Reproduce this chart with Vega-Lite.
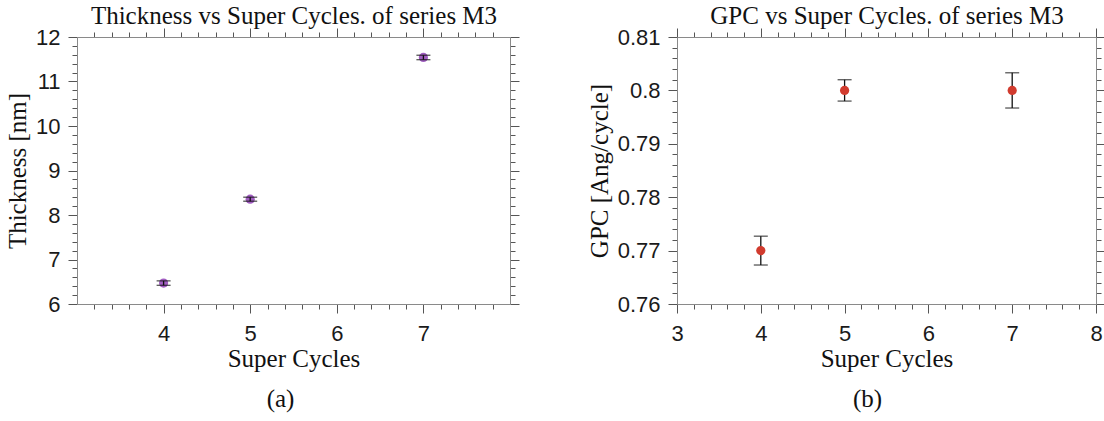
{
  "$schema": "https://vega.github.io/schema/vega-lite/v6.json",
  "autosize": {"type": "pad"},
  "padding": {"left": 5, "top": 3, "right": 2, "bottom": 2},
  "bounds": "flush",
  "spacing": 167,
  "config": {
    "view": {"stroke": null},
    "axis": {
      "grid": false,
      "domainColor": "#8a8a8a",
      "domainWidth": 1,
      "tickColor": "#555555",
      "tickWidth": 1,
      "labelFont": "Liberation Sans",
      "labelFontSize": 22,
      "labelColor": "#1a1a1a",
      "labelOverlap": false,
      "labelFlush": false,
      "titleFont": "Liberation Serif",
      "titleFontSize": 25,
      "titleFontWeight": "normal",
      "titleColor": "#111111"
    },
    "title": {"font": "Liberation Serif", "fontSize": 25, "fontWeight": "normal", "color": "#111111"}
  },
  "hconcat": [
    {
      "width": 433,
      "height": 267,
      "title": {"text": "(a)", "orient": "bottom", "anchor": "middle", "offset": 16, "dx": -13},
      "data": {"values": [
        {"cycles": 4, "thickness": 6.47, "err": 0.05},
        {"cycles": 5, "thickness": 8.355, "err": 0.045},
        {"cycles": 7, "thickness": 11.54, "err": 0.05}
      ]},
      "layer": [
        {
          "mark": {"type": "circle", "size": 85, "color": "#a15dc1", "opacity": 1},
          "encoding": {
            "x": {"field": "cycles", "type": "quantitative",
              "scale": {"domain": [3, 8], "nice": false, "zero": false},
              "axis": {"orient": "bottom", "title": "Super Cycles", "titleBaseline": "alphabetic", "titleY": 62, "labelPadding": 10,
                "values": [3.2,3.4,3.6,3.8,4,4.2,4.4,4.6,4.8,5,5.2,5.4,5.6,5.8,6,6.2,6.4,6.6,6.8,7,7.2,7.4,7.6,7.8],
                "labelExpr": "abs(datum.value - round(datum.value)) < 1e-6 ? format(datum.value, 'd') : ''",
                "tickSize": {"condition": {"test": "abs(datum.value - round(datum.value)) < 1e-6", "value": 9}, "value": 5}}},
            "y": {"field": "thickness", "type": "quantitative",
              "scale": {"domain": [6, 12], "nice": false, "zero": false},
              "axis": {"orient": "left", "title": "Thickness [nm]", "titlePadding": 5, "labelPadding": 8,
                "values": [6,6.2,6.4,6.6,6.8,7,7.2,7.4,7.6,7.8,8,8.2,8.4,8.6,8.8,9,9.2,9.4,9.6,9.8,10,10.2,10.4,10.6,10.8,11,11.2,11.4,11.6,11.8,12],
                "labelExpr": "abs(datum.value - round(datum.value)) < 1e-6 ? format(datum.value, 'd') : ''",
                "tickSize": {"condition": {"test": "abs(datum.value - round(datum.value)) < 1e-6", "value": 9}, "value": 5}}}
          }
        },
        {
          "mark": {"type": "errorbar", "color": "#111111", "thickness": 1.3, "ticks": {"size": 14}},
          "encoding": {
            "x": {"field": "cycles", "type": "quantitative",
              "scale": {"domain": [3, 8], "nice": false, "zero": false},
              "axis": {"orient": "top", "title": "Thickness vs Super Cycles. of series M3", "titlePadding": -1, "labels": false,
                "values": [3.2,3.4,3.6,3.8,4,4.2,4.4,4.6,4.8,5,5.2,5.4,5.6,5.8,6,6.2,6.4,6.6,6.8,7,7.2,7.4,7.6,7.8],
                "tickSize": {"condition": {"test": "abs(datum.value - round(datum.value)) < 1e-6", "value": 9}, "value": 5}}},
            "y": {"field": "thickness", "type": "quantitative",
              "scale": {"domain": [6, 12], "nice": false, "zero": false},
              "axis": {"orient": "right", "title": null, "labels": false,
                "values": [6,6.2,6.4,6.6,6.8,7,7.2,7.4,7.6,7.8,8,8.2,8.4,8.6,8.8,9,9.2,9.4,9.6,9.8,10,10.2,10.4,10.6,10.8,11,11.2,11.4,11.6,11.8,12],
                "tickSize": {"condition": {"test": "abs(datum.value - round(datum.value)) < 1e-6", "value": 9}, "value": 5}}},
            "yError": {"field": "err"}
          }
        }
      ],
      "resolve": {"axis": {"x": "independent", "y": "independent"}}
    },
    {
      "width": 419,
      "height": 267,
      "title": {"text": "(b)", "orient": "bottom", "anchor": "middle", "offset": 16, "dx": -19},
      "data": {"values": [
        {"cycles": 4, "gpc": 0.77, "err": 0.0027},
        {"cycles": 5, "gpc": 0.80, "err": 0.002},
        {"cycles": 7, "gpc": 0.80, "err": 0.0033}
      ]},
      "layer": [
        {
          "mark": {"type": "errorbar", "color": "#111111", "thickness": 1.3, "ticks": {"size": 14}},
          "encoding": {
            "x": {"field": "cycles", "type": "quantitative",
              "scale": {"domain": [3, 8], "nice": false, "zero": false},
              "axis": {"orient": "bottom", "title": "Super Cycles", "titleBaseline": "alphabetic", "titleY": 62, "labelPadding": 10,
                "values": [3,3.2,3.4,3.6,3.8,4,4.2,4.4,4.6,4.8,5,5.2,5.4,5.6,5.8,6,6.2,6.4,6.6,6.8,7,7.2,7.4,7.6,7.8,8],
                "labelExpr": "abs(datum.value - round(datum.value)) < 1e-6 ? format(datum.value, 'd') : ''",
                "tickSize": {"condition": {"test": "abs(datum.value - round(datum.value)) < 1e-6", "value": 9}, "value": 5}}},
            "y": {"field": "gpc", "type": "quantitative",
              "scale": {"domain": [0.76, 0.81], "nice": false, "zero": false},
              "axis": {"orient": "left", "title": "GPC [Ang/cycle]", "titlePadding": 5, "labelPadding": 8,
                "values": [0.76,0.762,0.764,0.766,0.768,0.77,0.772,0.774,0.776,0.778,0.78,0.782,0.784,0.786,0.788,0.79,0.792,0.794,0.796,0.798,0.8,0.802,0.804,0.806,0.808,0.81],
                "labelExpr": "abs(datum.value * 100 - round(datum.value * 100)) < 1e-6 ? format(datum.value, '.2~f') : ''",
                "tickSize": {"condition": {"test": "abs(datum.value * 100 - round(datum.value * 100)) < 1e-6", "value": 9}, "value": 5}}},
            "yError": {"field": "err"}
          }
        },
        {
          "mark": {"type": "circle", "size": 85, "color": "#d13b2e", "opacity": 1},
          "encoding": {
            "x": {"field": "cycles", "type": "quantitative",
              "scale": {"domain": [3, 8], "nice": false, "zero": false},
              "axis": {"orient": "top", "title": "GPC vs Super Cycles. of series M3", "titlePadding": -1, "labels": false,
                "values": [3,3.2,3.4,3.6,3.8,4,4.2,4.4,4.6,4.8,5,5.2,5.4,5.6,5.8,6,6.2,6.4,6.6,6.8,7,7.2,7.4,7.6,7.8,8],
                "tickSize": {"condition": {"test": "abs(datum.value - round(datum.value)) < 1e-6", "value": 9}, "value": 5}}},
            "y": {"field": "gpc", "type": "quantitative",
              "scale": {"domain": [0.76, 0.81], "nice": false, "zero": false},
              "axis": {"orient": "right", "title": null, "labels": false,
                "values": [0.76,0.762,0.764,0.766,0.768,0.77,0.772,0.774,0.776,0.778,0.78,0.782,0.784,0.786,0.788,0.79,0.792,0.794,0.796,0.798,0.8,0.802,0.804,0.806,0.808,0.81],
                "tickSize": {"condition": {"test": "abs(datum.value * 100 - round(datum.value * 100)) < 1e-6", "value": 9}, "value": 5}}}
          }
        }
      ],
      "resolve": {"axis": {"x": "independent", "y": "independent"}}
    }
  ]
}
